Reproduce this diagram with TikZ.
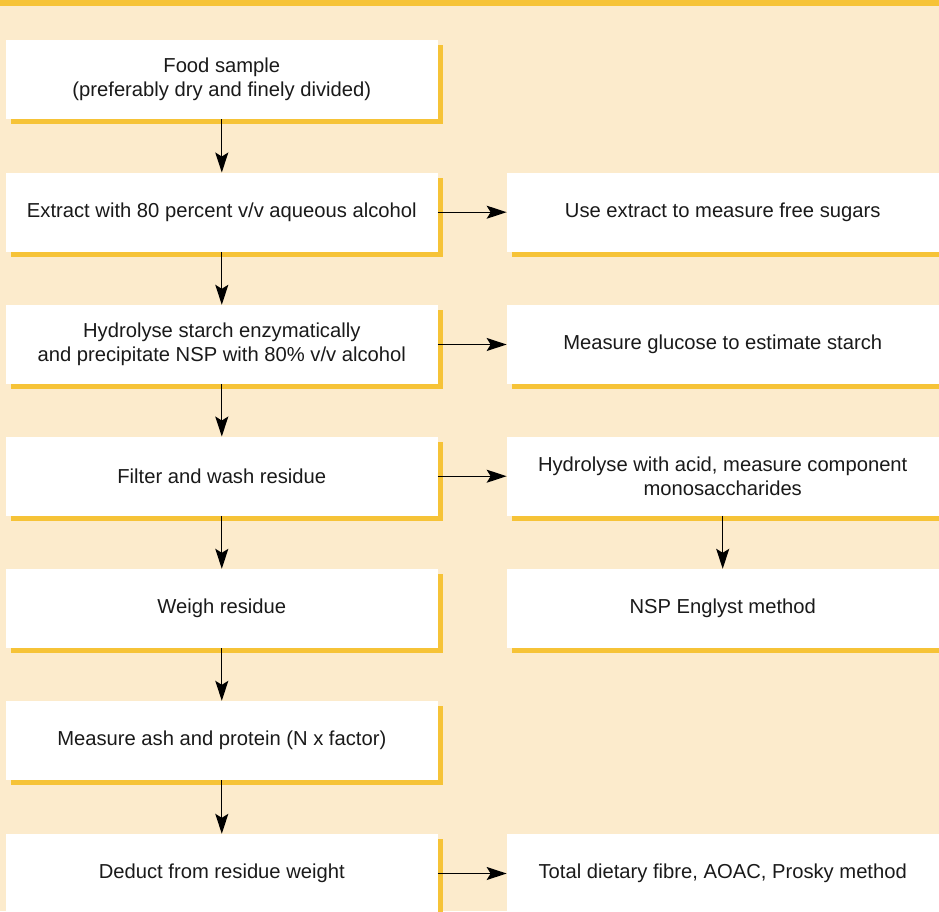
\documentclass[tikz,border=0pt]{standalone}
\usepackage{fontspec}
\setmainfont{Liberation Sans}
\usetikzlibrary{arrows.meta,shadows}
\definecolor{paper}{RGB}{252,235,204}
\definecolor{gold}{RGB}{246,195,55}
\definecolor{ink}{RGB}{26,26,26}
\tikzset{
  stepbox/.style={fill=white, minimum width=431.7pt, minimum height=79pt,
    inner sep=0pt, align=center, text=ink, font=\fontsize{20.2}{24}\selectfont,
    general shadow={fill=gold, shadow xshift=5pt, shadow yshift=-5pt}},
  flow/.style={line width=1.3pt, -{Stealth[length=20pt,width=13pt,inset=4pt]}}
}
\begin{document}
\begin{tikzpicture}[x=1pt,y=-1pt]
  \useasboundingbox (0,0) rectangle (939,911);
  \clip (0,0) rectangle (939,911);
  % page background and top rule
  \fill[paper] (0,0) rectangle (939,911);
  \fill[gold] (0,0) rectangle (939,5.5);

  % left column
  \node[stepbox] (food)   at (221.8, 79.5)  {Food sample\\(preferably dry and finely divided)};
  \node[stepbox] (ext)    at (221.8, 212.2) {Extract with 80 percent v/v aqueous alcohol};
  \node[stepbox] (hyd)    at (221.8, 344.5) {Hydrolyse starch enzymatically\\and precipitate NSP with 80\% v/v alcohol};
  \node[stepbox] (filt)   at (221.8, 476.2) {Filter and wash residue};
  \node[stepbox] (weigh)  at (221.8, 608.5) {Weigh residue};
  \node[stepbox] (ash)    at (221.8, 740.5) {Measure ash and protein (N x factor)};
  \node[stepbox] (deduct) at (221.8, 873.5) {Deduct from residue weight};

  % right column
  \node[stepbox] (sugar)  at (722.7, 212.2) {Use extract to measure free sugars};
  \node[stepbox] (gluc)   at (722.7, 344.5) {Measure glucose to estimate starch};
  \node[stepbox] (acid)   at (722.7, 476.2) {Hydrolyse with acid, measure component\\monosaccharides};
  \node[stepbox] (englyst) at (722.7, 608.5) {NSP Englyst method};
  \node[stepbox] (aoac)   at (722.7, 873.5) {Total dietary fibre, AOAC, Prosky method};

  % vertical flow
  \draw[flow] (food) -- (ext);
  \draw[flow] (ext) -- (hyd);
  \draw[flow] (hyd) -- (filt);
  \draw[flow] (filt) -- (weigh);
  \draw[flow] (weigh) -- (ash);
  \draw[flow] (ash) -- (deduct);
  \draw[flow] (acid) -- (englyst);

  % side branches
  \draw[flow] (ext) -- (sugar);
  \draw[flow] (hyd) -- (gluc);
  \draw[flow] (filt) -- (acid);
  \draw[flow] (deduct) -- (aoac);
\end{tikzpicture}
\end{document}
